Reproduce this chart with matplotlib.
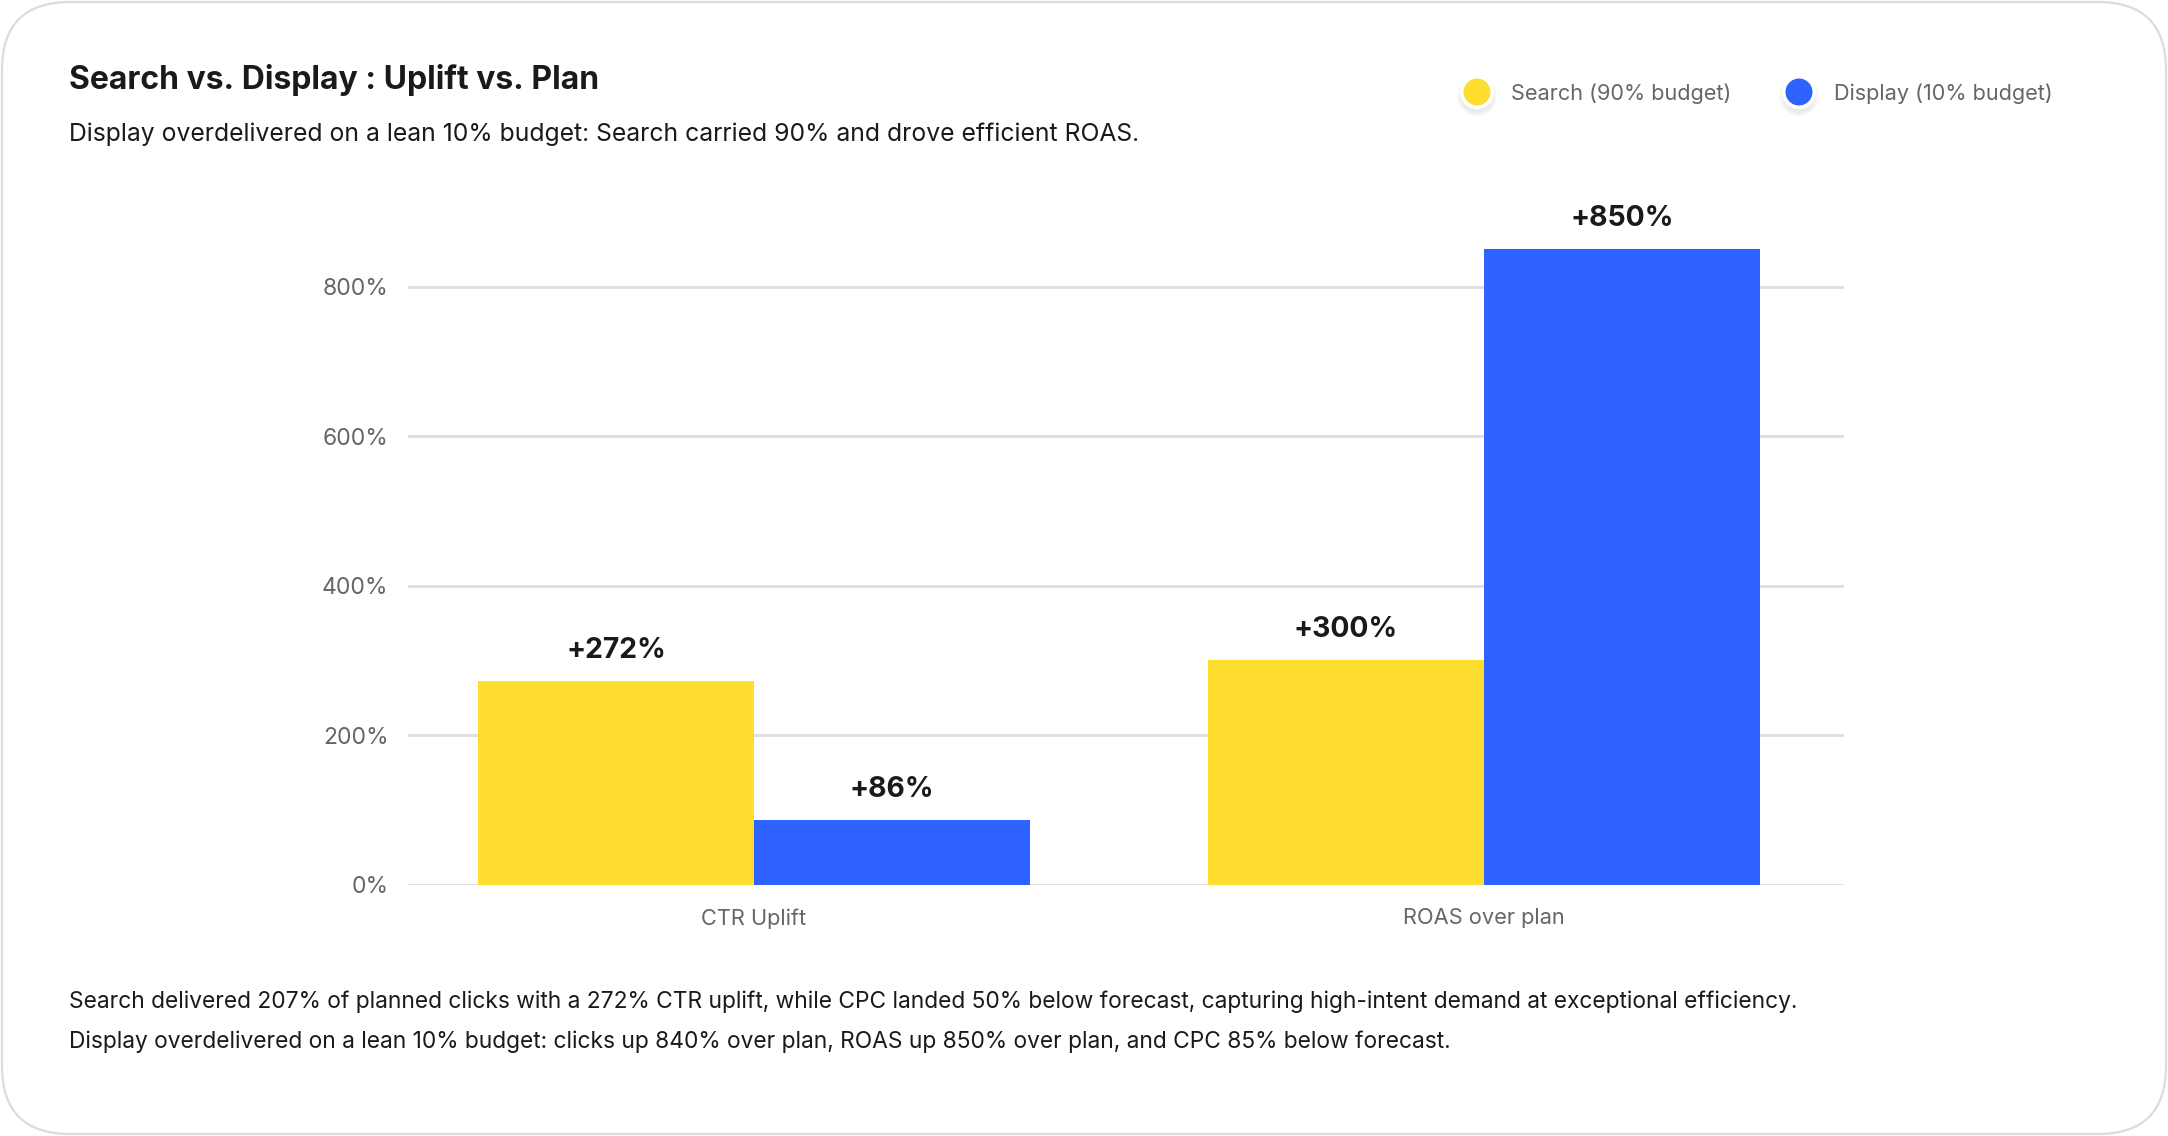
import matplotlib
matplotlib.use("Agg")
import matplotlib.pyplot as plt
from matplotlib.patches import FancyBboxPatch, Circle
import numpy as np

W, H = 2168, 1136

categories = ["CTR Uplift", "ROAS over plan"]
search_vals = [272, 300]
display_vals = [86, 850]
series_names = ["Search (90% budget)", "Display (10% budget)"]
yticks = [0, 200, 400, 600, 800]

title = "Search vs. Display : Uplift vs. Plan"
subtitle = "Display overdelivered on a lean 10% budget: Search carried 90% and drove efficient ROAS."
footer = [
    "Search delivered 207% of planned clicks with a 272% CTR uplift, while CPC landed 50% below forecast, capturing high-intent demand at exceptional efficiency.",
    "Display overdelivered on a lean 10% budget: clicks up 840% over plan, ROAS up 850% over plan, and CPC 85% below forecast.",
]

YELLOW = "#FFDD2E"
BLUE = "#2F63FF"
FONT = ["Inter", "DejaVu Sans"]

plt.rcParams["font.family"] = FONT


def fx(x):
    return x / W


def fy(y):
    return 1 - y / H


fig = plt.figure(figsize=(W / 100, H / 100), dpi=100)
fig.patch.set_facecolor("white")

# background axes in pixel coords (y down)
bg = fig.add_axes([0, 0, 1, 1])
bg.set_xlim(0, W)
bg.set_ylim(H, 0)
bg.axis("off")
bg.add_patch(FancyBboxPatch((2, 2), W - 4, H - 4,
                            boxstyle="round,pad=0,rounding_size=68",
                            facecolor="white", edgecolor="#dcdcdc", linewidth=1.6))

# legend dots with soft shadow
for cx, col, name, tx in [(1477, YELLOW, series_names[0], 1511),
                          (1799, BLUE, series_names[1], 1834)]:
    for i in range(4):
        bg.add_patch(Circle((cx, 96 + i * 0.5), 20 - i * 1.5, facecolor="#999999",
                            edgecolor="none", alpha=0.05))
    bg.add_patch(Circle((cx, 92), 17, facecolor="white", edgecolor="none"))
    bg.add_patch(Circle((cx, 92), 13.5, facecolor=col, edgecolor="none"))
    bg.text(tx, 100, name, fontsize=15.6, color="#666666", va="baseline", ha="left")

bg.text(69, 89, title, fontsize=23, fontweight="bold", color="#1a1a1a",
        va="baseline", ha="left")
bg.text(69, 141, subtitle, fontsize=17.8, color="#1a1a1a", va="baseline", ha="left")
bg.text(69, 1008, footer[0], fontsize=16.4, color="#1a1a1a", va="baseline", ha="left")
bg.text(69, 1048, footer[1], fontsize=16.4, color="#1a1a1a", va="baseline", ha="left")

# main chart
ymax = 900
left, right, bottom = 408, 1844, 884.7
top = bottom - ymax * 0.7475
ax = fig.add_axes([fx(left), fy(bottom), (right - left) / W, (bottom - top) / H])
x = np.arange(len(categories))
bw = 0.378
b1 = ax.bar(x - bw / 2, search_vals, bw, color=YELLOW, zorder=3)
b2 = ax.bar(x + bw / 2, display_vals, bw, color=BLUE, zorder=3)
for bars, vals in [(b1, search_vals), (b2, display_vals)]:
    for b, v in zip(bars, vals):
        ax.annotate("+%d%%" % v, (b.get_x() + b.get_width() / 2, v),
                    xytext=(0, 17), textcoords="offset points", ha="center",
                    va="baseline", fontsize=20.4, fontweight="bold", color="#1a1a1a")

ax.set_xlim(-0.474, 1.493)
ax.set_ylim(0, ymax)
ax.set_yticks(yticks)
ax.set_yticklabels(["%d%%" % t for t in yticks])
ax.set_xticks(x)
ax.set_xticklabels(categories)
ax.yaxis.grid(True, color="#e0e0e0", linewidth=2.2, zorder=0)
ax.set_axisbelow(True)
for s in ax.spines.values():
    s.set_visible(False)
ax.tick_params(axis="both", length=0, labelcolor="#666666")
ax.tick_params(axis="y", pad=14, labelsize=16.5)
ax.tick_params(axis="x", pad=17, labelsize=15.7)
ax.set_facecolor("none")

fig.savefig("out.png", dpi=100, facecolor="white")
